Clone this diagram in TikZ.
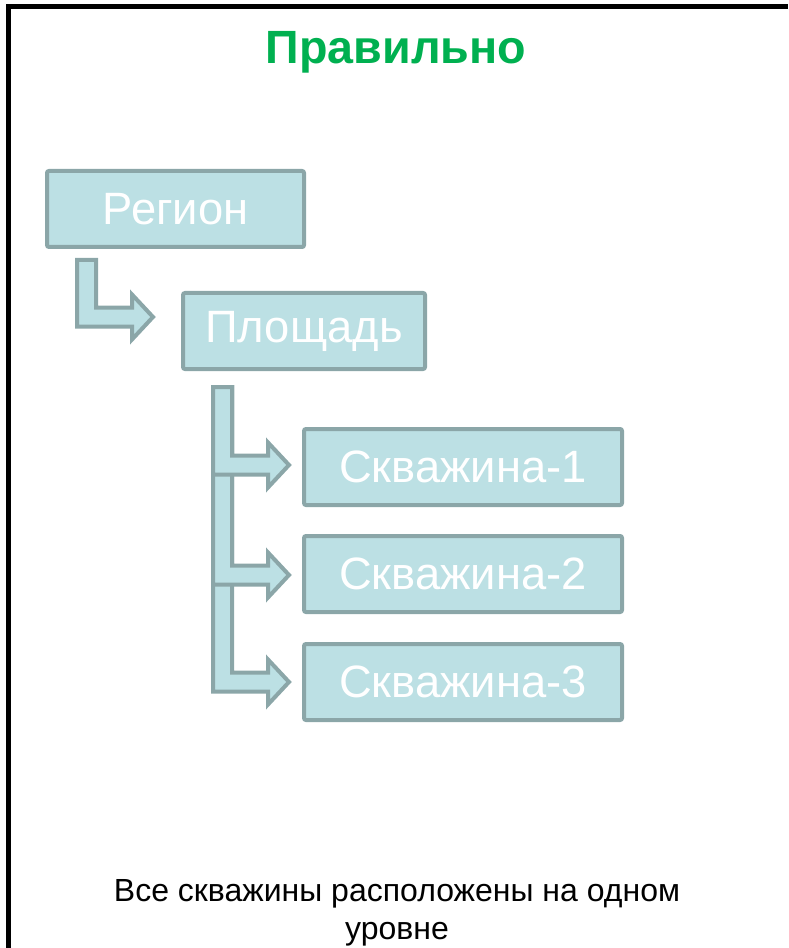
\documentclass[tikz,border=0pt]{standalone}
\usepackage{fontspec}
\setmainfont{Liberation Sans}
\usetikzlibrary{positioning,calc}
\definecolor{boxfill}{RGB}{188,224,228}
\definecolor{boxedge}{RGB}{139,166,168}
\definecolor{okgreen}{RGB}{0,176,80}

% bent block arrow: #1 = top corner of the shaft, #2 = tip
\newcommand{\bentarrow}[2]{%
  \draw [arrowbody] (#1) -- ($(#1)+(14.25pt,0pt)$)
    -- ($(#1 |- #2)+(14.25pt,7.125pt)$) -- ($(#2)+(-15.75pt,7.125pt)$)
    -- ($(#2)+(-15.75pt,16.875pt)$) -- (#2)
    -- ($(#2)+(-15.75pt,-16.875pt)$) -- ($(#2)+(-15.75pt,-7.125pt)$)
    -- ($(#1 |- #2)+(0pt,-7.125pt)$) -- cycle;
}

\begin{document}
\begin{tikzpicture} [x=0.75pt, y=-0.75pt,
    box/.style={draw=boxedge, fill=boxfill, rectangle, line width=3pt,
      rounded corners=1.5pt, text=white, inner sep=0pt, minimum height=57pt,
      font=\fontsize{34}{40}\selectfont},
    arrowbody/.style={draw=boxedge, fill=boxfill, line width=3pt, line join=miter}]
    \useasboundingbox (0,0) rectangle (788,948);
    \draw [line width=3.75pt, line join=miter] (8.5,948) -- (8.5,6.5) -- (788,6.5);

    \node (title) [anchor=base, text=okgreen, inner sep=0pt,
      font=\bfseries\fontsize{35}{40}\selectfont] at (396,64) {Правильно};

    \node (reg) [box, minimum width=192.75pt] at (175.5,209) {Регион};
    \node (pl) [box, minimum width=181.5pt] at (304,331) {Площадь};
    \node (w1) [box, minimum width=238.5pt] at (463,467) {Скважина-1};
    \node (w2) [box, minimum width=238.5pt, below = 20.25pt of w1] {Скважина-2};
    \node (w3) [box, minimum width=238.5pt, below = 21pt of w2] {Скважина-3};

    \coordinate (s1) at ($(reg.south west)+(32,11)$);
    \coordinate (s2) at ($(pl.south west)+(32,16)$);
    \coordinate (t0) at ($(pl.west)+(-28,-14)$);
    \coordinate (t1) at ($(w1.west)+(-13,-2)$);
    \coordinate (t2) at ($(w2.west)+(-13,1)$);
    \coordinate (t3) at ($(w3.west)+(-13,0)$);

    \bentarrow{s1}{t0}
    \bentarrow{s2}{t3}
    \bentarrow{s2}{t2}
    \bentarrow{s2}{t1}

    \node (note) [anchor=north, align=center, inner sep=0pt,
      font=\fontsize{24}{28.5}\selectfont] at (397,879)
      {Все скважины расположены на одном\\уровне};
\end{tikzpicture}
\end{document}
